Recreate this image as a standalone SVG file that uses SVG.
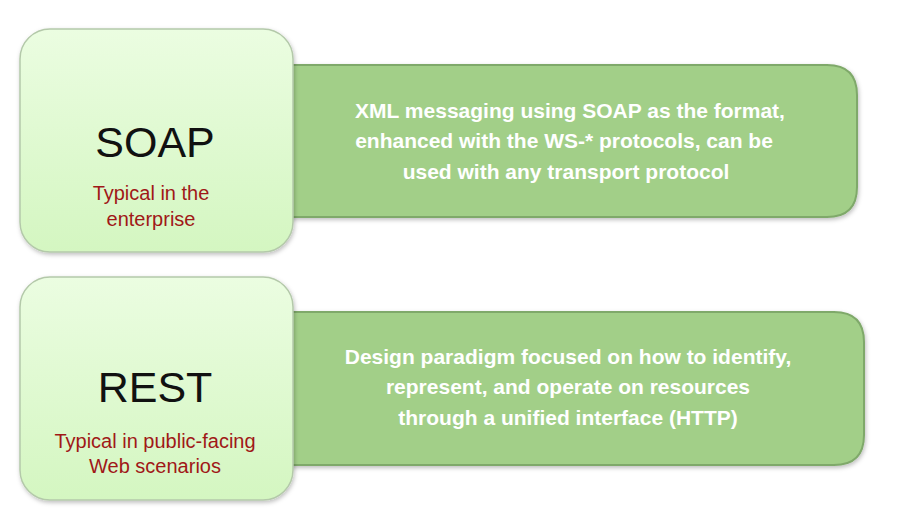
<svg xmlns="http://www.w3.org/2000/svg" width="898" height="523" viewBox="0 0 898 523">
<defs>
<linearGradient id="lg" x1="0" y1="0" x2="0" y2="1">
<stop offset="0" stop-color="#ebfde1"/>
<stop offset="1" stop-color="#d4f6c1"/>
</linearGradient>
<filter id="sh" x="-10%" y="-10%" width="120%" height="125%">
<feDropShadow dx="1" dy="2" stdDeviation="2" flood-color="#000" flood-opacity="0.25"/>
</filter>
<style>
.lbox{fill:url(#lg);stroke:#b4c9aa;stroke-width:1.5;filter:url(#sh)}
.rbox{fill:#a2cf88;stroke:#7fa96a;stroke-width:2;filter:url(#sh)}
.title{font-family:"Liberation Sans",Arial,sans-serif;font-size:43px;fill:#111;text-anchor:middle}
.sub{font-family:"Liberation Sans",Arial,sans-serif;font-size:20px;fill:#a01818;text-anchor:middle}
.desc{font-family:"Liberation Sans",Arial,sans-serif;font-size:21px;font-weight:bold;fill:#fff;text-anchor:middle}
</style>
</defs>
<g id="connectors"/>
<g id="soap-desc">
<path class="rbox" d="M280,65 H827 Q857,65 857,95 V187 Q857,217 827,217 H280 Z"/>
<text class="desc" x="570" y="118">XML messaging using SOAP as the format,</text>
<text class="desc" x="564" y="148">enhanced with the WS-* protocols, can be</text>
<text class="desc" x="566" y="179">used with any transport protocol</text>
</g>
<g id="soap">
<rect class="lbox" x="20" y="29" width="273" height="223" rx="30" ry="30"/>
<text class="title" x="155" y="157">SOAP</text>
<text class="sub" x="151" y="200">Typical in the</text>
<text class="sub" x="151" y="226">enterprise</text>
</g>
<g id="rest-desc">
<path class="rbox" d="M280,312 H834 Q864,312 864,342 V435 Q864,465 834,465 H280 Z"/>
<text class="desc" x="568" y="364">Design paradigm focused on how to identify,</text>
<text class="desc" x="568" y="394">represent, and operate on resources</text>
<text class="desc" x="568" y="425">through a unified interface (HTTP)</text>
</g>
<g id="rest">
<rect class="lbox" x="20" y="277" width="273" height="223" rx="30" ry="30"/>
<text class="title" x="155" y="402">REST</text>
<text class="sub" x="155" y="448">Typical in public-facing</text>
<text class="sub" x="155" y="473">Web scenarios</text>
</g>
</svg>
